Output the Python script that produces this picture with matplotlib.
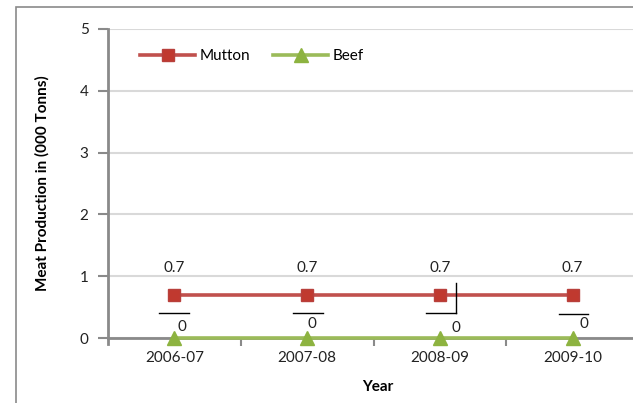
import matplotlib
matplotlib.use("Agg")
import matplotlib.pyplot as plt
from matplotlib.patches import Rectangle

years = ["2006-07", "2007-08", "2008-09", "2009-10"]
mutton = [0.7, 0.7, 0.7, 0.7]
beef = [0, 0, 0, 0]

plt.rcParams['font.family'] = ['Lato', 'DejaVu Sans']

W, H = 633, 403
fig = plt.figure(figsize=(W / 100, H / 100), dpi=100)

# outer chart frame (cropped on right / bottom)
fig.add_artist(Rectangle((16 / W, -0.2), 1.2, (H - 7) / H + 0.2, transform=fig.transFigure,
                         fill=False, edgecolor='#8a8a8a', linewidth=1.2))

ax = fig.add_axes([108 / W, (H - 338) / H, (639 - 108) / W, (338 - 29) / H])

x = list(range(len(years)))
ax.plot(x, mutton, color='#C0504D', lw=2.6, marker='s', ms=8.5,
        mfc='#C0392F', mec='#B8403C', label='Mutton', clip_on=False, zorder=3)
ax.plot(x, beef, color='#9BBB59', lw=2.6, marker='^', ms=9.5,
        mfc='#8DB340', mec='#8DB340', label='Beef', clip_on=False, zorder=3)

ax.set_xlim(-0.5, len(years) - 0.5)
ax.set_ylim(0, 5)
ax.set_yticks(range(6))
ax.set_xticks(x)
ax.set_xticklabels(years)
ax.set_xticks([i + 0.5 for i in x[:-1]], minor=True)
ax.tick_params(axis='x', which='major', length=0, pad=9, labelsize=11, colors='#222222')
ax.tick_params(axis='x', which='minor', length=6, width=1.5, color='#8a8a8a', direction='out')
ax.tick_params(axis='y', length=7, width=1.5, color='#8a8a8a', pad=7, labelsize=11, labelcolor='#222222')

ax.grid(axis='y', color='#d9d9d9', linewidth=1.5)
ax.set_axisbelow(True)
for s in ['top', 'right']:
    ax.spines[s].set_visible(False)
for s in ['left', 'bottom']:
    ax.spines[s].set_color('#8a8a8a')
    ax.spines[s].set_linewidth(2)
ax.spines['left'].set_bounds(-0.1, 5)

ax.set_xlabel('Year', fontsize=11, fontweight='bold')
ax.set_ylabel('Meat Production in (000 Tonns)', fontsize=11, fontweight='bold')
ax.xaxis.set_label_coords((378 - 108) / (639 - 108), -(380 - 338) / (338 - 29))
ax.yaxis.set_label_coords(-(108 - 50) / (639 - 108), (338 - 183) / (338 - 29))

# data labels above mutton markers
for xi, v in zip(x, mutton):
    ax.annotate(f'{v:g}', (xi, v), xytext=(0, 27), textcoords='offset pixels',
                ha='center', va='center', fontsize=11, color='#222222')

# beef labels with leader lines (offsets in pixels from the marker)
lbl_off = [(8, 11), (5, 14), (16, 10), (11, 14)]
line_off = [(-15, 15, 25), (-14, 16, 25), (-14, 16, 25), (-14, 15, 24)]
fig.canvas.draw()
for i, (xi, v) in enumerate(zip(x, beef)):
    dx, dy = lbl_off[i]
    ax.annotate(f'{v:g}', (xi, v), xytext=(dx, dy), textcoords='offset pixels',
                ha='center', va='center', fontsize=11, color='#222222')
    x0, x1, ly = line_off[i]
    px, py = ax.transData.transform((xi, v))
    fig.add_artist(plt.Line2D([(px + x0) / W, (px + x1) / W], [(py + ly) / H, (py + ly) / H],
                              color='black', lw=1, transform=fig.transFigure))
    if i == 2:
        fig.add_artist(plt.Line2D([(px + x1) / W, (px + x1) / W], [(py + ly) / H, (py + 55) / H],
                                  color='black', lw=1, transform=fig.transFigure))

ax.legend(loc='upper left', bbox_to_anchor=(0.035, 0.98), ncol=2, frameon=False,
          fontsize=11, handlelength=3.6, columnspacing=1.5, handletextpad=0.3)

fig.savefig('out.png', dpi=100)
